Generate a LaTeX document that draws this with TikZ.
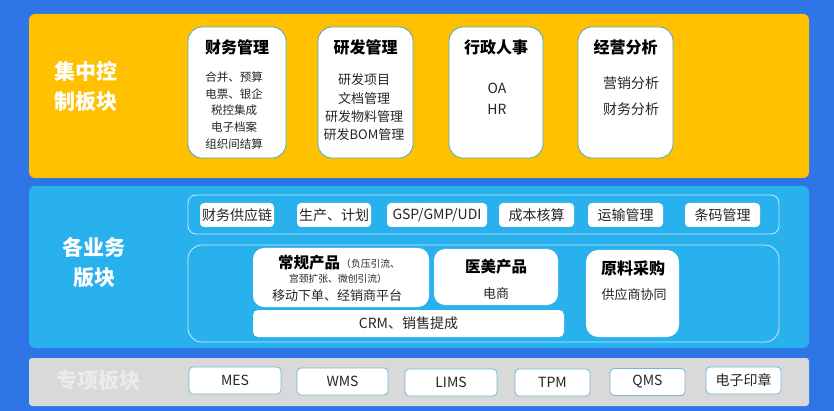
\documentclass[tikz,border=0pt]{standalone}
\usepackage{fontspec}
\setmainfont{Noto Sans CJK SC}
\usetikzlibrary{positioning}
\definecolor{bgblue}{HTML}{2E75E6}
\definecolor{ctrlyellow}{HTML}{FFC000}
\definecolor{bizcyan}{HTML}{29B1EE}
\definecolor{specgray}{HTML}{D9D9D9}
\definecolor{cardline}{HTML}{4BA8C8}
\definecolor{txtdark}{HTML}{262626}
\newcommand{\fsz}[2]{\fontsize{#1}{#2}\selectfont}

\begin{document}
\begin{tikzpicture}[x=1pt, y=-1pt,
    every node/.style={inner sep=0pt, align=center, text=txtdark},
    panel/.style={rounded corners=6pt, minimum width=780pt},
    panellabel/.style={text=white, font=\bfseries\fsz{21}{30}},
    card/.style={draw=cardline, fill=white, line width=0.8pt, rounded corners=14pt,
        minimum height=131pt},
    cardtitle/.style={text=black, font=\bfseries\fsz{16}{18}},
    group/.style={draw=white!75!bizcyan, line width=0.8pt},
    tag/.style={fill=white, rounded corners=4pt, minimum height=24pt, font=\fsz{14}{16}},
    block/.style={fill=white, rounded corners=11pt},
    module/.style={draw=cardline!80!white, fill=white, line width=0.8pt, rounded corners=4pt,
        minimum height=27pt, font=\fsz{14}{16}}]
    % fondo
    \fill[bgblue] (0,0) rectangle (834,411);

    % Bloque de control centralizado
    \node[panel, fill=ctrlyellow, minimum height=164pt] (ctrl) at (419,96) {};
    \node[panellabel] (ctrlL) at (86,87) {集中控\\制板块};

    \node[card, minimum width=98pt] (fin) at (237,92.5) {};
    \node[cardtitle] (finT) at (237,47) {财务管理};
    \node[font=\fsz{11.5}{16.75}] (finB) at (234,110.5)
        {合并、预算\\电票、银企\\税控集成\\电子档案\\组织间结算};

    \node[card, minimum width=95pt] (rd) at (365.5,92.5) {};
    \node[cardtitle] (rdT) at (365.5,47) {研发管理};
    \node[font=\fsz{13}{18.3}] (rdB) at (364,107.5)
        {研发项目\\文档管理\\研发物料管理\\研发BOM管理};

    \node[card, minimum width=94pt] (hr) at (496,92.5) {};
    \node[cardtitle] (hrT) at (496,47) {行政人事};
    \node[font=\fsz{14}{21}] (hrB) at (497,98.5) {OA\\HR};

    \node[card, minimum width=95pt] (ana) at (625.5,92.5) {};
    \node[cardtitle] (anaT) at (625.5,47) {经营分析};
    \node[font=\fsz{14}{26}] (anaB) at (631,96) {营销分析\\财务分析};

    % Bloque de negocio
    \node[panel, fill=bizcyan, minimum height=162pt] (biz) at (419,267) {};
    \node[panellabel] (bizL) at (94,263) {各业务\\版块};

    \draw[group, rounded corners=8pt] (188,195) rectangle (779,234);
    \node[tag, minimum width=74pt] (scm) at (237,215) {财务供应链};
    \node[tag, minimum width=74pt] (plan) at (334,215) {生产、计划};
    \node[tag, minimum width=100pt] (gsp) at (437,215) {GSP/GMP/UDI};
    \node[tag, minimum width=75pt] (cost) at (536.5,215) {成本核算};
    \node[tag, minimum width=75pt] (trans) at (625.5,215) {运输管理};
    \node[tag, minimum width=75pt] (code) at (722.5,215) {条码管理};

    \draw[group, rounded corners=14pt] (188,245) rectangle (779,342);
    \node[block, minimum width=176pt, minimum height=59pt] (reg) at (341,277.5) {};
    \node[text=black, font=\bfseries\fsz{15.5}{18}] (regT) at (309,263) {常规产品};
    \node[anchor=west, font=\fsz{9.8}{11}] (regN1) at (341,264) {（负压引流、};
    \node[font=\fsz{9.8}{11}] (regN2) at (338,278.5) {宫颈扩张、微创引流）};
    \node[font=\fsz{13}{15}] (regB) at (337,296) {移动下单、经销商平台};

    \node[block, minimum width=124pt, minimum height=56pt] (med) at (496,277) {};
    \node[text=black, font=\bfseries\fsz{15.5}{18}] (medT) at (496,267) {医美产品};
    \node[font=\fsz{13}{15}] (medB) at (496,294) {电商};

    \node[block, rounded corners=5pt, minimum width=311pt, minimum height=27pt] (crm)
        at (408.5,323.5) {};
    \node[font=\fsz{14}{16}] (crmT) at (408.5,323.5) {CRM、销售提成};

    \node[block, rounded corners=12pt, minimum width=93pt, minimum height=87pt] (buy)
        at (632.5,293.5) {};
    \node[text=black, font=\bfseries\fsz{16}{18}] (buyT) at (633,268) {原料采购};
    \node[font=\fsz{13}{15}] (buyB) at (634,295) {供应商协同};

    % Bloque de proyectos especiales
    \node[panel, rounded corners=3pt, fill=specgray, minimum height=48pt] (spec) at (419,382) {};
    \node[panellabel, text=white!92!black] (specL) at (98,380.5) {专项板块};

    \node[module, minimum width=92pt] (mes) at (235,380.5) {MES};
    \node[module, minimum width=91pt] (wms) at (342.5,381.5) {WMS};
    \node[module, minimum width=92pt] (lims) at (451,382.5) {LIMS};
    \node[module, minimum width=75pt] (tpm) at (552.5,382.5) {TPM};
    \node[module, minimum width=75pt] (qms) at (647.5,382) {QMS};
    \node[module, minimum width=75pt] (seal) at (743.5,380.5) {电子印章};
\end{tikzpicture}
\end{document}
